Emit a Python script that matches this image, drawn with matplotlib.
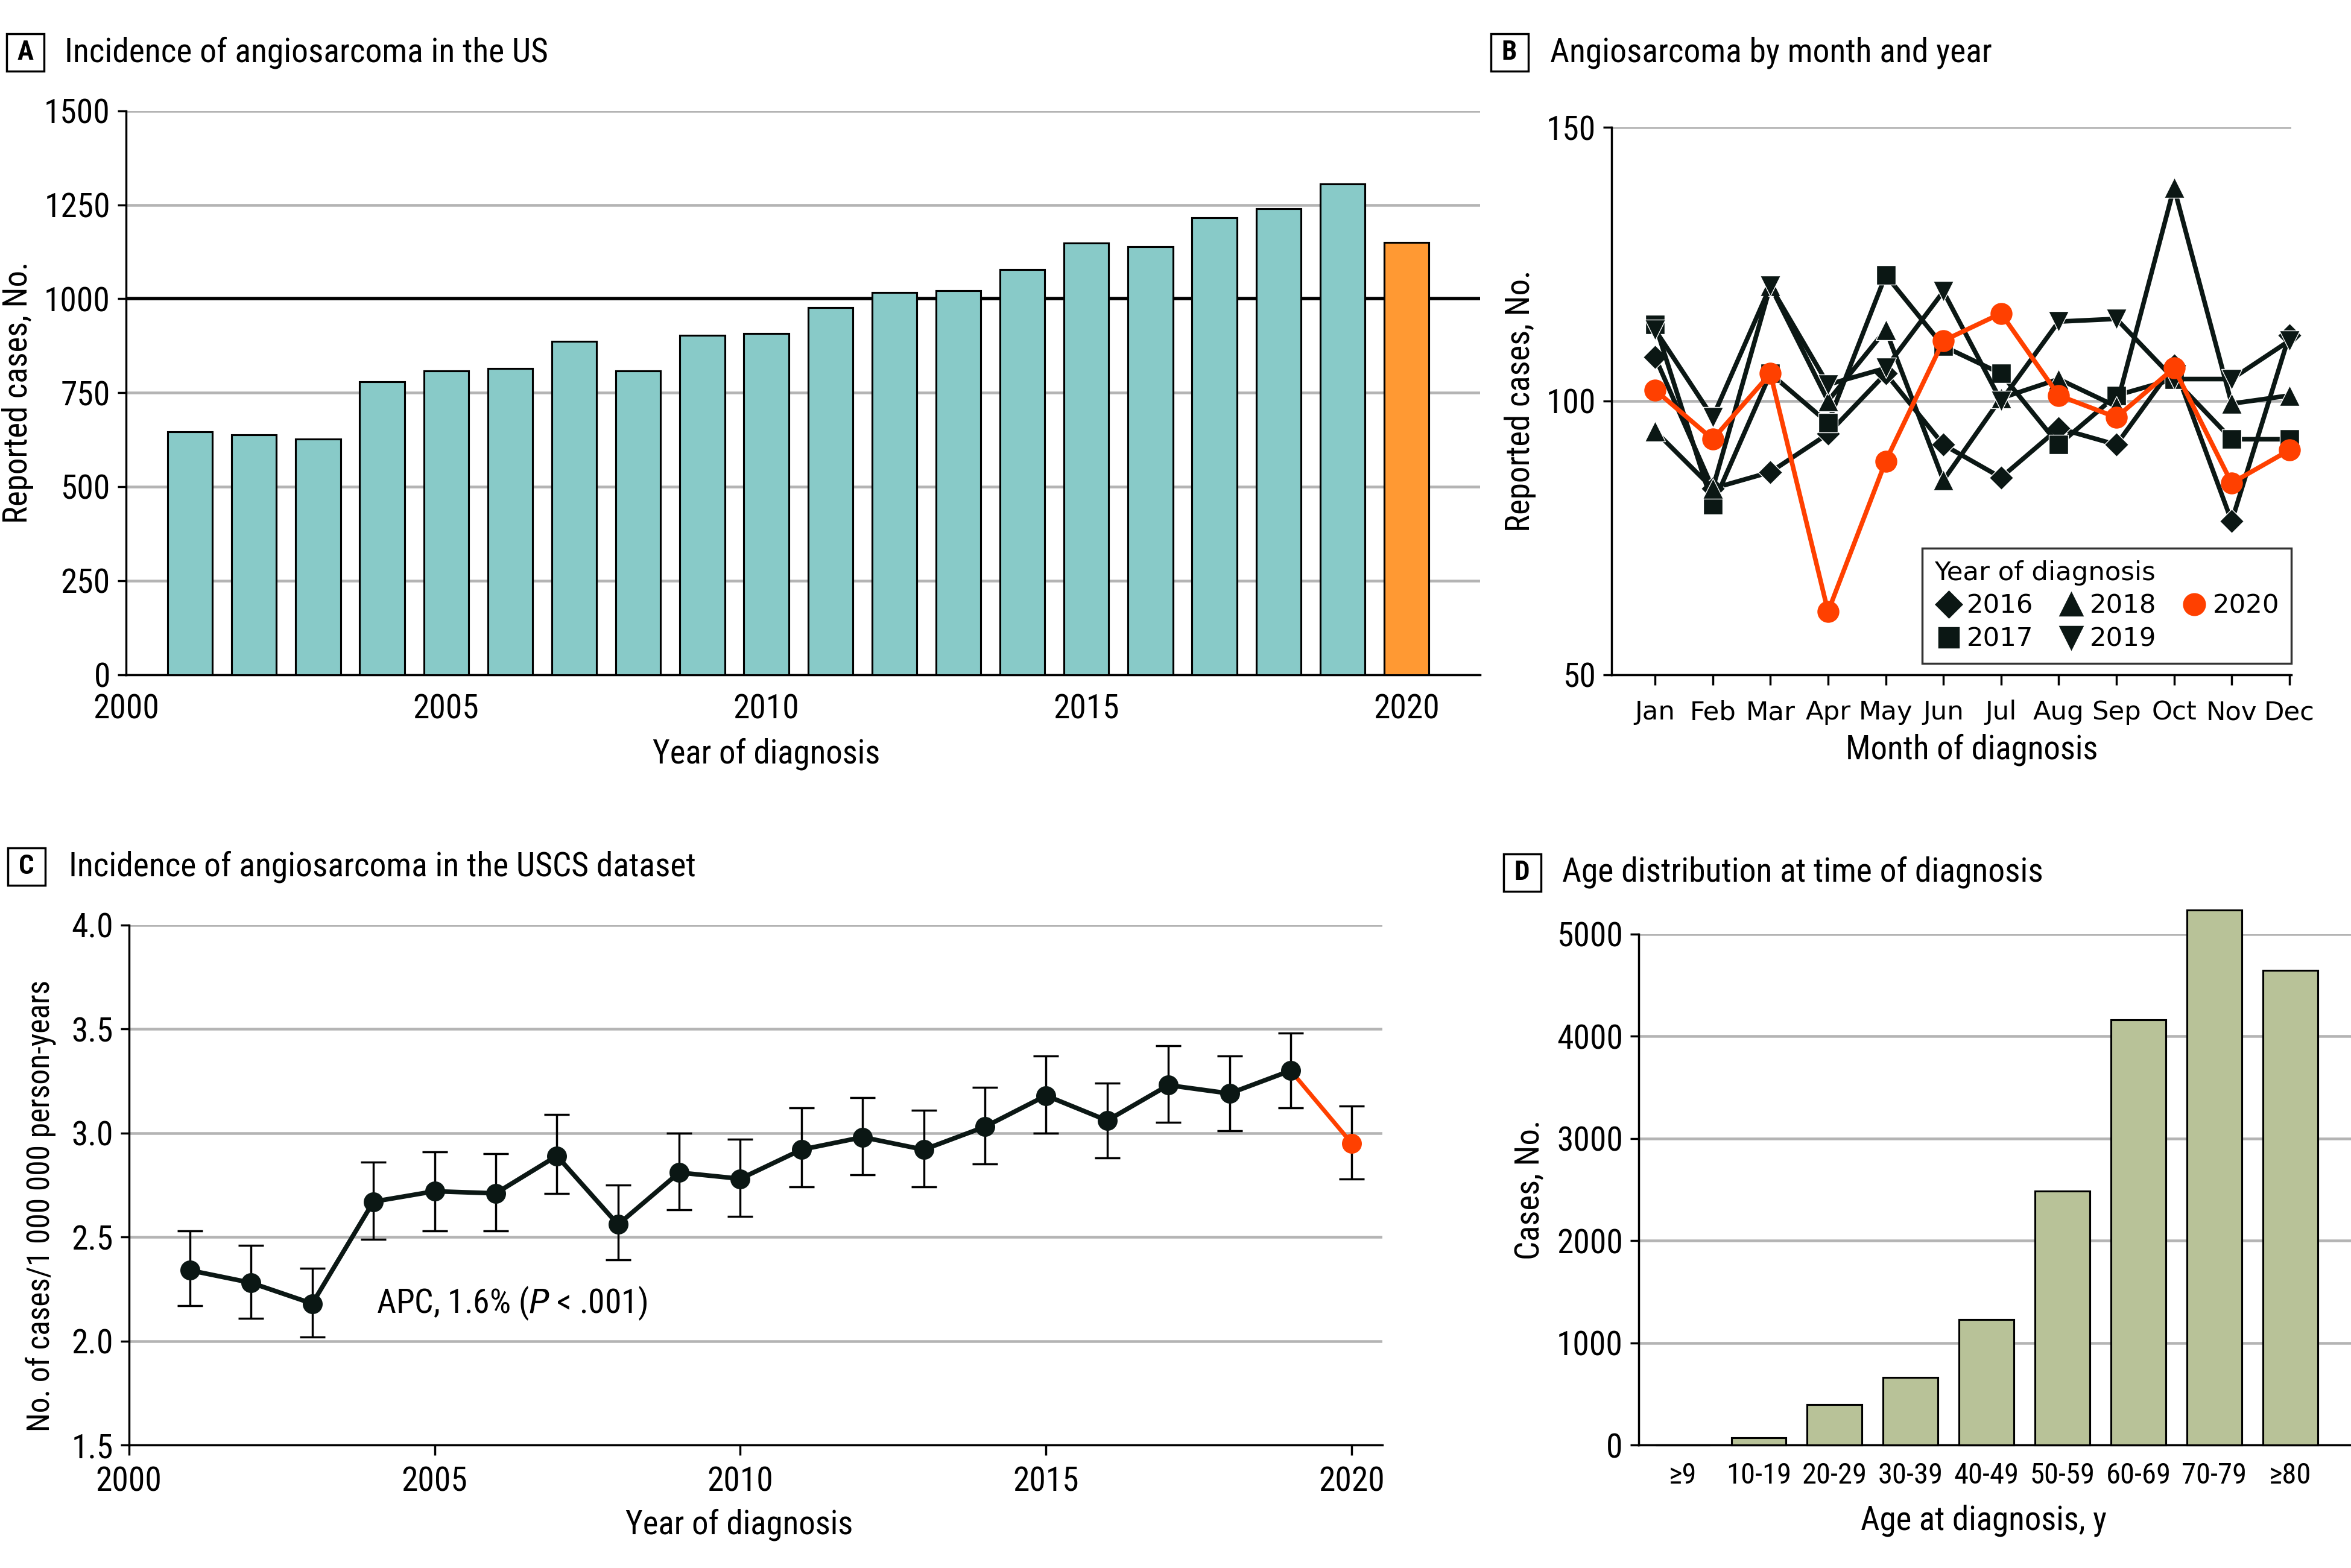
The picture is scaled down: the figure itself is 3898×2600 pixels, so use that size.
import numpy as np
import matplotlib.pyplot as plt
from matplotlib import font_manager
from matplotlib.patches import Rectangle

# pick a narrow font if one is installed
installed = {f.name for f in font_manager.fontManager.ttflist}
narrow = 'DejaVu Sans'
for name in ['Liberation Sans Narrow', 'Roboto Condensed', 'DejaVu Sans Condensed', 'Open Sans Condensed']:
    if name in installed:
        narrow = name
        break
plt.rcParams['font.family'] = [narrow, 'DejaVu Sans']
plt.rcParams['mathtext.fontset'] = 'dejavusans'

# A: yearly US cases
years = np.arange(2001, 2021)
us_cases = [646, 638, 626, 779, 808, 815, 887, 808, 903, 908,
            976, 1016, 1022, 1077, 1148, 1139, 1216, 1240, 1306, 1150]

# B: cases by month
months = ['Jan', 'Feb', 'Mar', 'Apr', 'May', 'Jun',
          'Jul', 'Aug', 'Sep', 'Oct', 'Nov', 'Dec']
cases_2016 = [108, 84, 87, 94, 105, 92, 86, 95, 92, 106.5, 78, 112]
cases_2017 = [114, 81, 105, 96, 123, 110, 105, 92, 101, 104, 93, 93]
cases_2018 = [94.5, 84, 121, 100, 113, 85.5, 100.5, 104, 99, 139, 99.5, 101]
cases_2019 = [113, 97, 121, 103, 106, 120, 100, 114.5, 115, 104, 104, 111]
cases_2020 = [102, 93, 105, 61.5, 89, 111, 116, 101, 97, 106, 85, 91]

# C: incidence rate with 95% CI
rate = [2.34, 2.28, 2.18, 2.67, 2.72, 2.71, 2.89, 2.56, 2.81, 2.78,
        2.92, 2.98, 2.92, 3.03, 3.18, 3.06, 3.23, 3.19, 3.30, 2.95]
rate_lo = [2.17, 2.11, 2.02, 2.49, 2.53, 2.53, 2.71, 2.39, 2.63, 2.60,
           2.74, 2.80, 2.74, 2.85, 3.00, 2.88, 3.05, 3.01, 3.12, 2.78]
rate_hi = [2.53, 2.46, 2.35, 2.86, 2.91, 2.90, 3.09, 2.75, 3.00, 2.97,
           3.12, 3.17, 3.11, 3.22, 3.37, 3.24, 3.42, 3.37, 3.48, 3.13]

# D: age distribution
age_groups = ['≥9', '10-19', '20-29', '30-39', '40-49',
              '50-59', '60-69', '70-79', '≥80']
age_cases = [3, 73, 399, 660, 1225, 2482, 4161, 5234, 4642]

dark = '#0B1714'
red = '#FF4000'
grid_c = '#B4B4B4'
fs_tick = 16
fs_lab = 15.8

fig = plt.figure(figsize=(15.592, 10.4), dpi=250)


def style(ax):
    ax.spines['top'].set_visible(False)
    ax.spines['right'].set_visible(False)
    ax.spines['left'].set_linewidth(1.0)
    ax.spines['bottom'].set_linewidth(1.0)
    ax.yaxis.grid(True, color=grid_c, lw=1.3, zorder=0)
    ax.set_axisbelow(True)
    ax.tick_params(labelsize=fs_tick, width=1.0, length=4)


def panel_title(x_box, y_box, x_text, letter, text):
    w, h = 0.0159, 0.0239
    fig.add_artist(Rectangle((x_box - w / 2, y_box - h / 2), w, h,
                             transform=fig.transFigure, fill=False,
                             lw=1.0, edgecolor='black'))
    fig.text(x_box, y_box, letter, ha='center', va='center',
             fontsize=13, fontweight='bold')
    fig.text(x_text, y_box, text, ha='left', va='center', fontsize=16)


# ---- A ----
axA = fig.add_axes([0.0536, 0.5698, 0.576, 0.3595])
style(axA)
bar_colors = ['#88CAC8'] * (len(years) - 1) + ['#FF9933']
axA.bar(years, us_cases, width=0.7, color=bar_colors, edgecolor='black',
        lw=0.9, zorder=3)
axA.axhline(1000, color='black', lw=1.6, zorder=2)
axA.set_xlim(2000, 2021.15)
axA.set_ylim(0, 1500)
axA.set_yticks(np.arange(0, 1501, 250))
axA.set_xticks([2000, 2005, 2010, 2015, 2020])
axA.tick_params(axis='x', length=0, pad=9)
axA.set_ylabel('Reported cases, No.', fontsize=fs_lab, labelpad=5)
axA.set_xlabel('Year of diagnosis', fontsize=fs_lab, x=0.473, labelpad=6)
panel_title(0.0108, 0.9665, 0.0274, 'A', 'Incidence of angiosarcoma in the US')

# ---- B ----
axB = fig.add_axes([0.6856, 0.5698, 0.2889, 0.349])
style(axB)
xm = np.arange(len(months))
series = [(cases_2016, 'D', 8, '2016'), (cases_2017, 's', 9, '2017'),
          (cases_2018, '^', 10, '2018'), (cases_2019, 'v', 10, '2019')]
handles = {}
for vals, mk, ms, lab in series:
    h, = axB.plot(xm, vals, color=dark, lw=2.2, marker=mk, ms=ms,
                  markeredgecolor='white', markeredgewidth=0.4, label=lab,
                  clip_on=False, zorder=3)
    handles[lab] = h
h, = axB.plot(xm, cases_2020, color=red, lw=2.2, marker='o', ms=9.5,
              markeredgecolor=red, label='2020', clip_on=False, zorder=4)
handles['2020'] = h
axB.set_xlim(-0.75, 11.03)
axB.set_ylim(50, 150)
axB.set_yticks([50, 100, 150])
axB.set_xticks(xm)
axB.set_xticklabels(months, family='DejaVu Sans', fontsize=12.5)
axB.tick_params(axis='x', length=5, pad=7)
axB.set_ylabel('Reported cases, No.', fontsize=fs_lab, labelpad=5)
axB.set_xlabel('Month of diagnosis', fontsize=fs_lab, x=0.53, labelpad=4)
order = ['2016', '2017', '2018', '2019', '2020']
leg_h = []
for lab in order:
    src = handles[lab]
    leg_h.append(plt.Line2D([], [], ls='none', marker=src.get_marker(),
                            ms=src.get_markersize() * 1.05, color=src.get_color(),
                            markeredgecolor=src.get_color()))
leg = axB.legend(leg_h, order, ncol=3, title='Year of diagnosis',
                 loc='lower right', bbox_to_anchor=(1.0, 0.02),
                 borderaxespad=0, frameon=True, fancybox=False,
                 edgecolor='black',
                 prop={'family': 'DejaVu Sans', 'size': 12.5},
                 title_fontproperties={'family': 'DejaVu Sans', 'size': 12.5},
                 handletextpad=0.15, columnspacing=0.9, labelspacing=0.3,
                 borderpad=0.45, handlelength=1.1)
leg._legend_box.align = 'left'
leg.get_frame().set_linewidth(1.0)
panel_title(0.642, 0.9665, 0.6594, 'B', 'Angiosarcoma by month and year')

# ---- C ----
axC = fig.add_axes([0.0548, 0.0784, 0.5332, 0.3317])
style(axC)
rate_arr = np.array(rate)
yerr = [rate_arr - np.array(rate_lo), np.array(rate_hi) - rate_arr]
axC.errorbar(years, rate, yerr=yerr, fmt='none', ecolor='black',
             elinewidth=1.0, capsize=6, capthick=1.0, zorder=3)
axC.plot(years[-2:], rate[-2:], color=red, lw=2.0, zorder=4)
axC.plot(years[:-1], rate[:-1], color=dark, lw=2.2, marker='o', ms=8.5,
         zorder=5)
axC.plot(years[-1:], rate[-1:], ls='none', marker='o', ms=8.5, color=red,
         zorder=5)
axC.text(2004.05, 2.18, r'APC, 1.6% ($\it{P}$ < .001)', fontsize=fs_tick,
         va='center', ha='left')
axC.set_xlim(2000, 2020.5)
axC.set_ylim(1.5, 4.0)
axC.set_yticks(np.arange(1.5, 4.01, 0.5))
axC.set_yticklabels(['1.5', '2.0', '2.5', '3.0', '3.5', '4.0'])
axC.set_xticks([2000, 2005, 2010, 2015, 2020])
axC.tick_params(axis='x', length=5, pad=5)
axC.set_ylabel('No. of cases/1 000 000 person-years', fontsize=14.8,
               y=0.46, labelpad=7)
axC.set_xlabel('Year of diagnosis', fontsize=fs_lab, x=0.487, labelpad=5)
panel_title(0.0112, 0.4474, 0.0293, 'C',
            'Incidence of angiosarcoma in the USCS dataset')

# ---- D ----
axD = fig.add_axes([0.697, 0.0784, 0.303, 0.326])
style(axD)
xa = np.arange(len(age_groups))
axD.bar(xa, age_cases, width=0.72, color='#B8C298', edgecolor='black',
        lw=0.9, zorder=3, clip_on=False)
axD.set_xlim(-0.58, 8.8)
axD.set_ylim(0, 5000)
axD.set_yticks(np.arange(0, 5001, 1000))
axD.set_xticks(xa)
axD.set_xticklabels(age_groups, fontsize=14)
axD.tick_params(axis='x', length=0, pad=8)
axD.set_ylabel('Cases, No.', fontsize=fs_lab, labelpad=5)
axD.set_xlabel('Age at diagnosis, y', fontsize=fs_lab, x=0.484, labelpad=7)
panel_title(0.6474, 0.4436, 0.6645, 'D', 'Age distribution at time of diagnosis')

fig.savefig('out.png', dpi=250)
